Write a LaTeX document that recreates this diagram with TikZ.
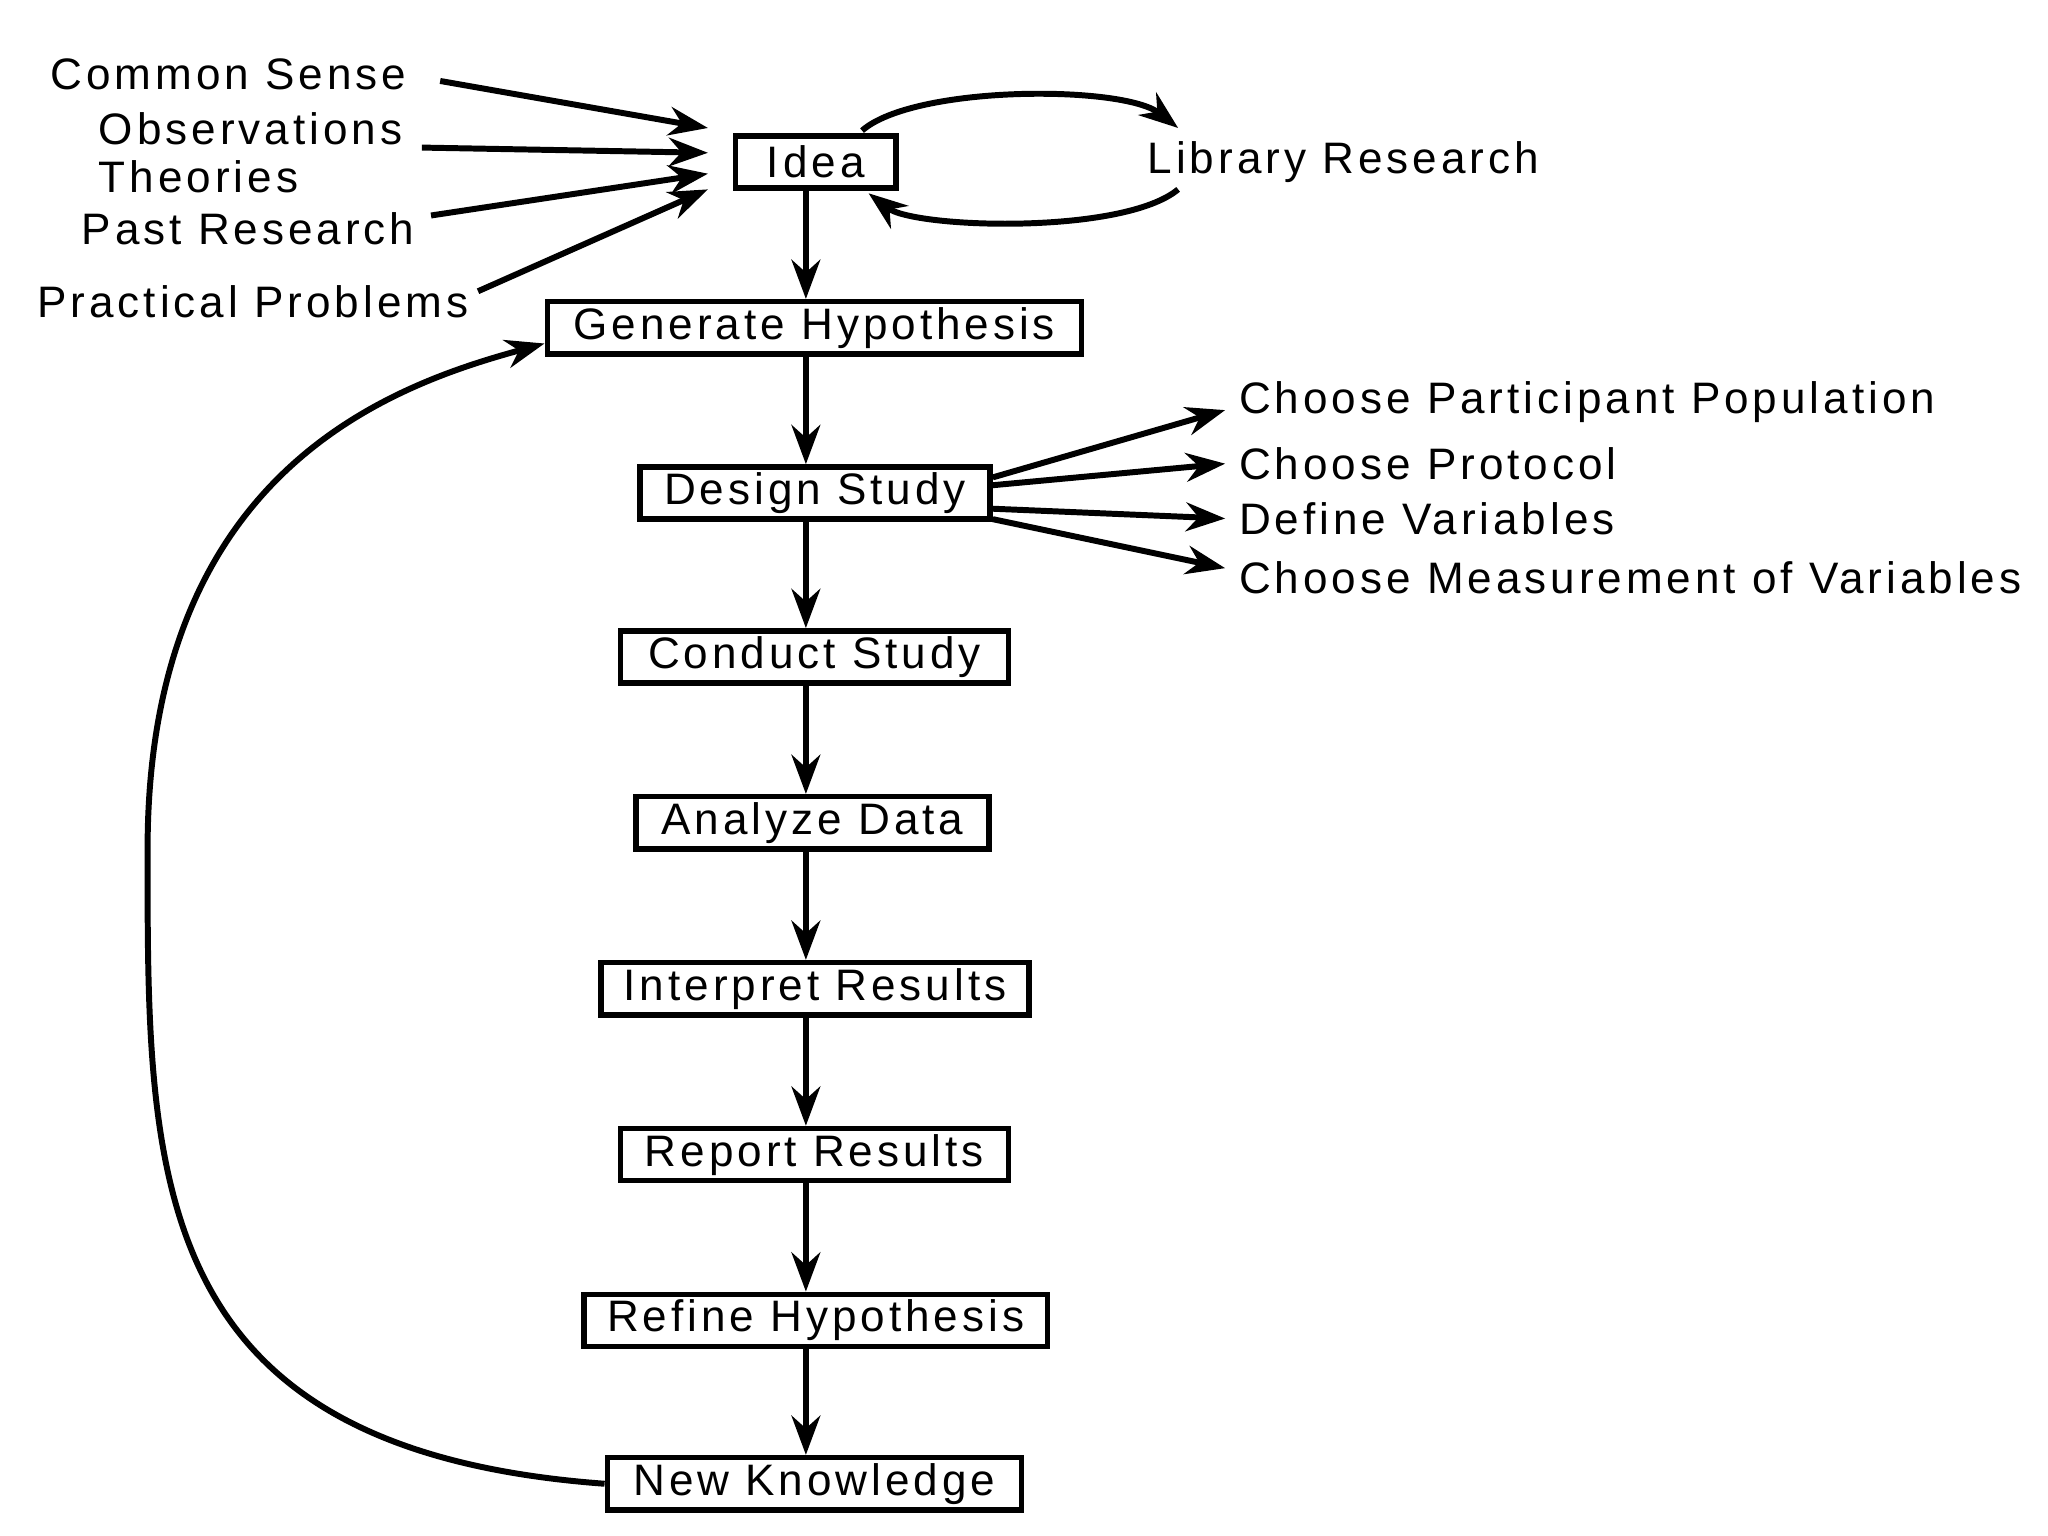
\documentclass[tikz,border=0pt]{standalone}
\usepackage{fontspec}
\setmainfont[LetterSpace=9]{Liberation Sans}
\usetikzlibrary{arrows.meta}
\begin{document}
\begin{tikzpicture}[
  box/.style={draw, line width=1.2pt, minimum height=0.4cm, inner sep=0pt},
  lbl/.style={anchor=west, inner sep=0pt},
  arr/.style={line width=1.3pt, -{Stealth[length=0.3cm,width=0.22cm]}},
  font=\fontsize{9.6}{10.5}\selectfont]
\useasboundingbox (0,0) rectangle (15.68,-11.76);
% main chain
\node[box, minimum width=1.23cm] (idea) at (6.245,-1.24) {Idea};
\node[box, minimum width=4.09cm] (gen) at (6.235,-2.51) {Generate Hypothesis};
\node[box, minimum width=2.68cm] (des) at (6.24,-3.775) {Design Study};
\node[box, minimum width=2.97cm] (con) at (6.235,-5.03) {Conduct Study};
\node[box, minimum width=2.70cm] (ana) at (6.22,-6.30) {Analyze Data};
\node[box, minimum width=3.28cm] (int) at (6.24,-7.57) {Interpret Results};
\node[box, minimum width=2.97cm] (rep) at (6.235,-8.84) {Report Results};
\node[box, minimum width=3.55cm] (ref) at (6.245,-10.11) {Refine Hypothesis};
\node[box, minimum width=3.17cm] (new) at (6.235,-11.36) {New Knowledge};
\foreach \a/\b in {idea/gen,gen/des,des/con,con/ana,ana/int,int/rep,rep/ref,ref/new}
  \draw[arr] (\a.south -| 6.17,0) -- (\b.north -| 6.17,0);
% sources
\node[lbl] (cs) at (0.38,-0.57) {Common Sense};
\node[lbl, align=left] (obs) at (0.75,-1.17) {Observations\\Theories};
\node[lbl] (past) at (0.62,-1.75) {Past Research};
\node[lbl] (prac) at (0.28,-2.31) {Practical Problems};
\coordinate (i1) at (5.42,-0.98);
\coordinate (i2) at (5.42,-1.17);
\coordinate (i3) at (5.42,-1.33);
\coordinate (i4) at (5.42,-1.45);
\draw[arr] (3.37,-0.62) -- (i1);
\draw[arr] (3.23,-1.13) -- (i2);
\draw[arr] (3.3,-1.65) -- (i3);
\draw[arr] (3.66,-2.23) -- (i4);
% library research loop
\node[lbl] (lib) at (8.78,-1.24) {Library Research};
\draw[arr] (6.6,-1.0) .. controls (7.0,-0.65) and (8.6,-0.65) .. (9.02,-0.98);
\draw[arr] (9.02,-1.45) .. controls (8.6,-1.8) and (7.0,-1.75) .. (6.65,-1.48);
% design outputs
\node[lbl] (p1) at (9.48,-3.08) {Choose Participant Population};
\node[lbl] (p2) at (9.48,-3.55) {Choose Protocol};
\node[lbl] (p3) at (9.48,-3.97) {Define Variables};
\node[lbl] (p4) at (9.48,-4.42) {Choose Measurement of Variables};
\draw[arr] (des.east)+(0,0.12) -- (9.38,-3.14);
\draw[arr] (des.east)+(0,0.06) -- (9.38,-3.55);
\draw[arr] (des.east)+(0,-0.12) -- (9.38,-3.97);
\draw[arr] (des.east)+(0,-0.2) -- (9.38,-4.35);
% feedback loop
\draw[arr] (new.west) .. controls (1.1,-11.1) and (1.13,-9) .. (1.13,-6.5)
  .. controls (1.13,-3.6) and (3,-2.95) .. (gen.west |- 0,-2.63);
\end{tikzpicture}
\end{document}
